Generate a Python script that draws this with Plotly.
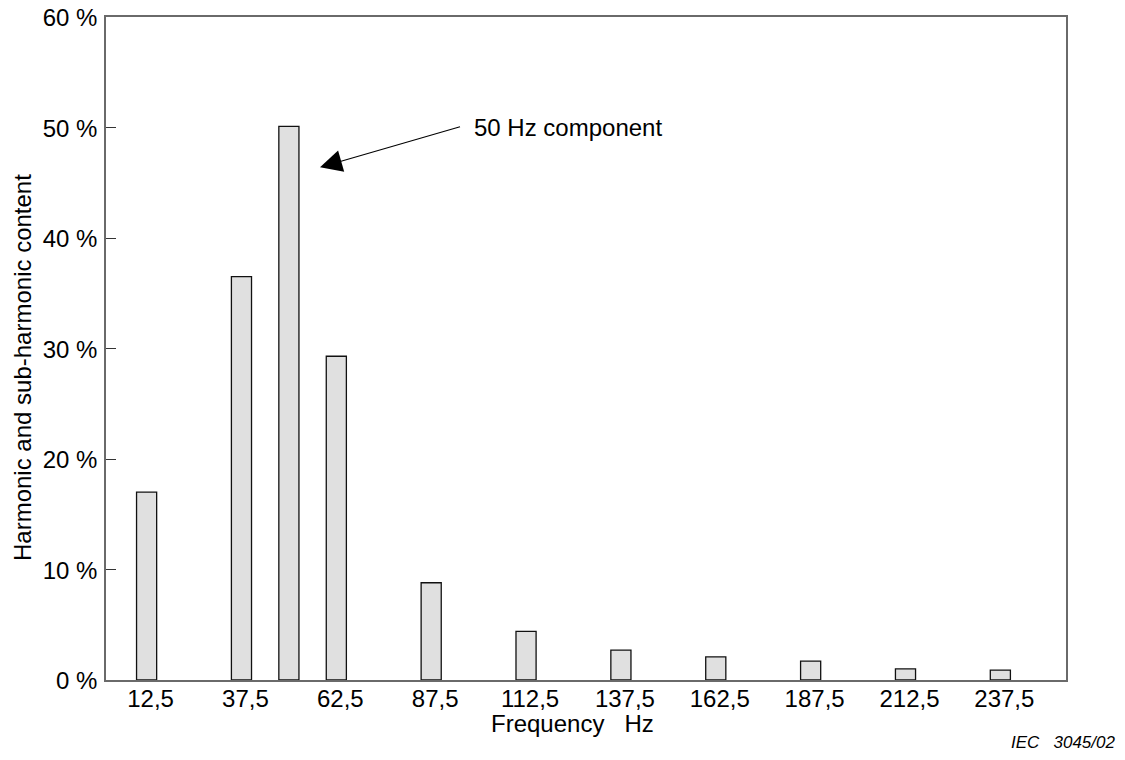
import plotly.graph_objects as go

# Data
freq_hz = [12.5, 37.5, 50, 62.5, 87.5, 112.5, 137.5, 162.5, 187.5, 212.5, 237.5]
content_pct = [17.0, 36.5, 50.1, 29.3, 8.8, 4.4, 2.7, 2.1, 1.7, 1.0, 0.9]

x_tickvals = [12.5, 37.5, 62.5, 87.5, 112.5, 137.5, 162.5, 187.5, 212.5, 237.5]
x_ticktext = ["12,5", "37,5", "62,5", "87,5", "112,5", "137,5", "162,5", "187,5", "212,5", "237,5"]
y_tickvals = [0, 10, 20, 30, 40, 50, 60]
y_ticktext = ["0 %", "10 %", "20 %", "30 %", "40 %", "50 %", "60 %"]

FONT = "Liberation Sans, Arial, sans-serif"

W, H = 1125, 760
L, R, T, B = 106, 59, 17, 80
PW, PH = W - L - R, H - T - B


def px2paper(px, py):
    return (px - L) / PW, (H - B - py) / PH


fig = go.Figure()
fig.add_trace(go.Bar(
    x=freq_hz, y=content_pct, width=5.3,
    marker=dict(color="#e0e0e0", line=dict(color="#111111", width=1.3)),
    hoverinfo="x+y",
))

xt, yt = px2paper(572, 723)
xy, yy = px2paper(22, 368)
xi, yi = px2paper(1118, 742)

fig.update_layout(
    width=W, height=H,
    margin=dict(l=L, r=R, t=T, b=B, autoexpand=False),
    paper_bgcolor="white", plot_bgcolor="white",
    font=dict(family=FONT, size=24, color="black"),
    showlegend=False,
    xaxis=dict(
        range=[1.8, 254.8], tickvals=x_tickvals, ticktext=x_ticktext,
        ticks="", showgrid=False, zeroline=False, automargin=False,
        showline=True, mirror=True, linecolor="#6a6a6a", linewidth=1.5,
        ticklabelstandoff=-4, ticklabelshift=4, ticklabeloverflow="allow",
    ),
    yaxis=dict(
        range=[0, 60], tickvals=y_tickvals, ticktext=y_ticktext,
        ticks="inside", ticklen=10, tickcolor="#333333", tickwidth=1.2,
        showgrid=False, zeroline=False, automargin=False,
        showline=True, mirror=True, linecolor="#6a6a6a", linewidth=1.5,
        ticklabelstandoff=2, ticklabelshift=1, ticklabeloverflow="allow",
    ),
    annotations=[
        dict(x=58.2, y=46.4, xref="x", yref="y", ax=95.5, ay=50.1, axref="x", ayref="y",
             text="", showarrow=True, arrowhead=2, arrowsize=4, arrowwidth=1.1,
             arrowcolor="black"),
        dict(x=98.3, y=50.0, xref="x", yref="y", text="50 Hz component",
             showarrow=False, xanchor="left", yanchor="middle"),
        dict(x=xt, y=yt, xref="paper", yref="paper", text="Frequency\u00a0\u00a0\u00a0Hz",
             showarrow=False, xanchor="center", yanchor="middle"),
        dict(x=xy, y=yy, xref="paper", yref="paper", text="Harmonic and sub-harmonic content",
             textangle=-90, showarrow=False, xanchor="center", yanchor="middle"),
        dict(x=xi, y=yi, xref="paper", yref="paper", text="<i>IEC\u00a0\u00a0\u00a03045/02</i>",
             showarrow=False, xanchor="right", yanchor="middle", font=dict(size=17)),
    ],
)

fig.write_html("out.html", config={"displayModeBar": False},
               post_script="document.body.style.margin='0';")
